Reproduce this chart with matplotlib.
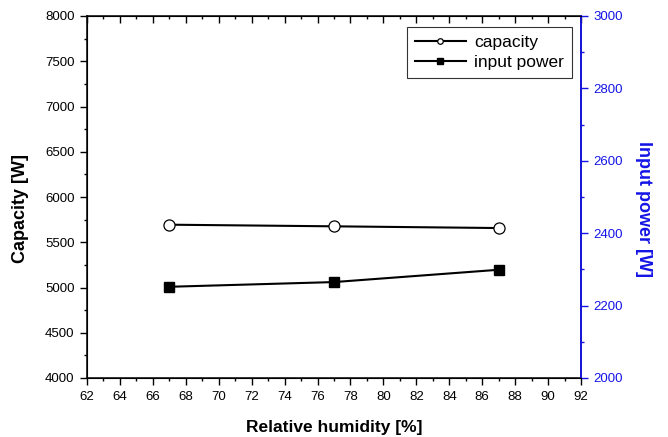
import matplotlib.pyplot as plt
from matplotlib.ticker import MultipleLocator

plt.rcParams['font.family'] = ['Liberation Sans', 'DejaVu Sans']

humidity = [67, 77, 87]
capacity = [5694, 5676, 5657]
input_power = [2252, 2265, 2299]

BLUE = '#1414e6'

fig = plt.figure(figsize=(6.68, 4.37), dpi=100)
ax = fig.add_axes([87 / 668, 59 / 437, 494 / 668, 362 / 437])

ax.plot(humidity, capacity, '-', color='black', lw=1.5, marker='o', ms=8,
        mfc='white', mec='black', mew=0.9, label='capacity')
ax.set_xlim(62, 92)
ax.set_ylim(4000, 8000)
ax.xaxis.set_major_locator(MultipleLocator(2))
ax.xaxis.set_minor_locator(MultipleLocator(1))
ax.yaxis.set_major_locator(MultipleLocator(500))
ax.yaxis.set_minor_locator(MultipleLocator(250))
ax.tick_params(axis='both', which='major', direction='out', length=5, width=1,
               labelsize=9.5, pad=4)
ax.tick_params(axis='both', which='minor', direction='out', length=2.5, width=1)
ax.tick_params(axis='x', which='both', top=True)
for sp in ax.spines.values():
    sp.set_linewidth(1.1)

ax.set_xlabel('Relative humidity [%]', fontsize=12.5, fontweight='bold', va='center')
ax.xaxis.set_label_coords(0.5, -0.1354)
ax.set_ylabel('Capacity [W]', fontsize=13, fontweight='bold', va='center')
ax.yaxis.set_label_coords(-0.1356, 0.467)

# top ticks pointing inward
for t in ax.xaxis.get_ticklines(minor=False)[1::2] + ax.xaxis.get_ticklines(minor=True)[1::2]:
    t.set_marker(3)

ax2 = ax.twinx()
ax2.plot(humidity, input_power, '-', color='black', lw=1.5, marker='s', ms=7.5,
         mfc='black', mec='black', label='input power')
ax2.set_ylim(2000, 3000)
ax2.yaxis.set_major_locator(MultipleLocator(200))
ax2.yaxis.set_minor_locator(MultipleLocator(100))
ax2.tick_params(axis='y', which='major', direction='out', length=5, width=1,
                colors=BLUE, labelsize=9.5, pad=4)
ax2.tick_params(axis='y', which='minor', direction='out', length=2.5, width=1, colors=BLUE)
ax2.spines['right'].set_color(BLUE)
ax2.spines['right'].set_linewidth(1.3)
ax2.set_ylabel('Input power [W]', fontsize=13, fontweight='bold', color=BLUE,
               rotation=-90, va='center')
ax2.yaxis.set_label_coords(1.1275, 0.467)

h1, l1 = ax.get_legend_handles_labels()
h2, l2 = ax2.get_legend_handles_labels()
leg = ax2.legend(h1 + h2, l1 + l2, loc='upper right',
                 bbox_to_anchor=((572 - 87) / 494, (378 - 27) / 362),
                 fontsize=12.5, frameon=True, fancybox=False, edgecolor='black',
                 numpoints=1, handlelength=2.9, markerscale=0.5, borderpad=0.45,
                 labelspacing=0.3, handletextpad=0.5, borderaxespad=0)
leg.get_frame().set_linewidth(0.8)

fig.savefig('out.png', dpi=100)
